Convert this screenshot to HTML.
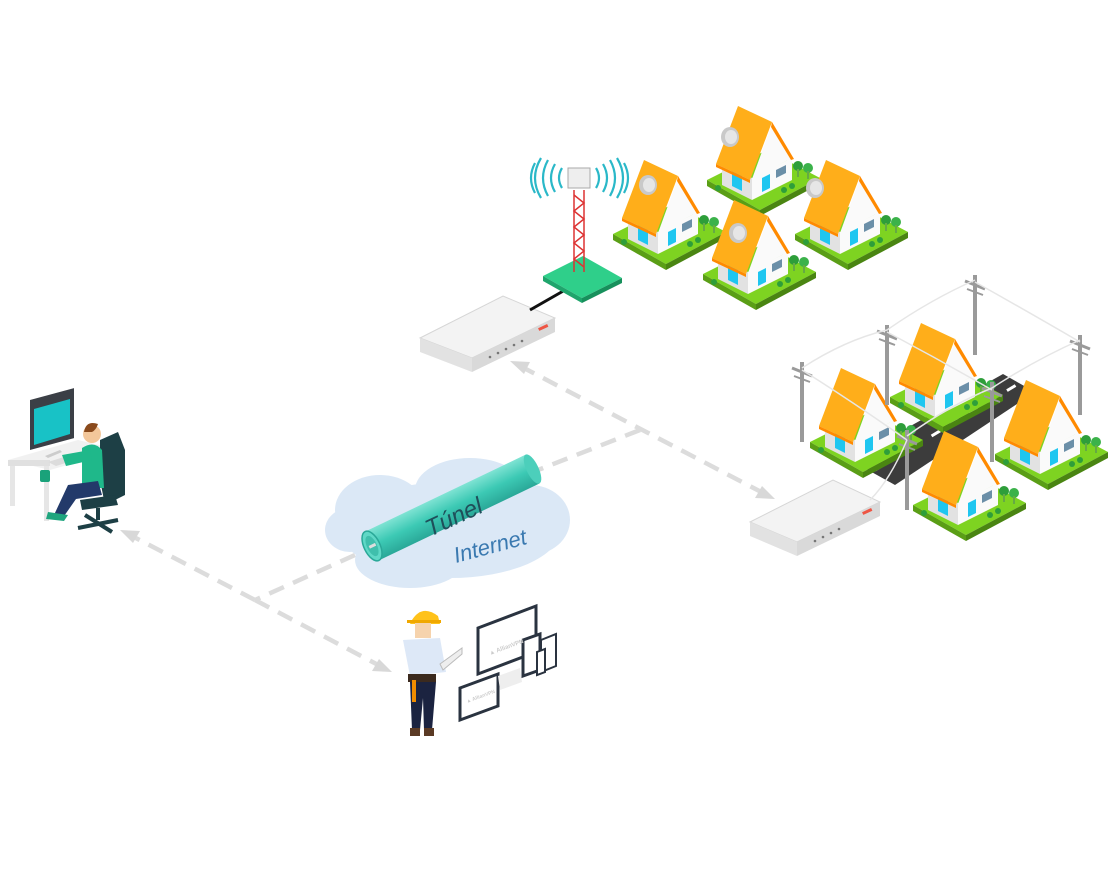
<!DOCTYPE html>
<html><head><meta charset="utf-8"><style>
html,body{margin:0;padding:0;background:#fff;}
svg{display:block;}
text{font-family:"Liberation Sans",sans-serif;}
</style></head><body>
<svg width="1120" height="870" viewBox="0 0 1120 870" xmlns="http://www.w3.org/2000/svg">
<defs>
<g id="house">
  <polygon points="-55,12 5,-18 58,10 -2,42" fill="#7ed321"/>
  <polygon points="-55,12 -2,42 -2,48 -55,18" fill="#5a9e16"/>
  <polygon points="-2,42 58,10 58,16 -2,48" fill="#4a8512"/>
  <polygon points="-40,-5 -10,10 -10,32 -40,17" fill="#e2e2e2"/>
  <polygon points="-10,10 30,-10 30,12 -10,32" fill="#fafafa"/>
  <polygon points="-30,2 -20,7 -20,23 -30,18" fill="#1fc6f0"/>
  <polygon points="0,10 8,6 8,20 0,24" fill="#1fc6f0"/>
  <polygon points="14,2 24,-3 24,5 14,10" fill="#6b8fa8"/>
  <polygon points="-10,11 10,-44 30,-10" fill="#fafafa"/>
  <polygon points="-12,12 10,-46 -24,-62 -46,-4" fill="#ffae1a"/>
  <polygon points="10,-46 32,-9 29,-8 9,-41" fill="#ff8a00"/>
  <polygon points="-12,12 -46,-4 -46,-1 -12,15" fill="#ff8a00"/>
  <circle cx="36" cy="-2" r="5" fill="#2e9e3a"/><circle cx="46" cy="0" r="5" fill="#3bb24a"/>
  <rect x="35" y="1" width="2" height="8" fill="#6a4"/><rect x="45" y="3" width="2" height="8" fill="#6a4"/>
  <circle cx="22" cy="22" r="3" fill="#2e9e3a"/><circle cx="30" cy="18" r="3" fill="#2e9e3a"/>
  <circle cx="-44" cy="20" r="3" fill="#2e9e3a"/>
</g>
<g id="dish">
  <ellipse cx="0" cy="0" rx="9" ry="10" fill="#c9c9c9"/>
  <ellipse cx="1" cy="0" rx="6" ry="7" fill="#e6e6e6"/>
</g>
<g id="pole">
  <rect x="-2" y="0" width="4" height="80" fill="#9a9a9a"/>
  <line x1="-10" y1="6" x2="10" y2="14" stroke="#9a9a9a" stroke-width="3"/>
  <line x1="-8" y1="14" x2="8" y2="20" stroke="#9a9a9a" stroke-width="2"/>
</g>
</defs>

<!-- dashed connectors -->
<g stroke="#dcdcdc" stroke-width="4.5" stroke-dasharray="16 10" fill="none">
  <line x1="520" y1="366" x2="765" y2="494"/>
  <line x1="640" y1="430" x2="538" y2="470"/>
  <line x1="355" y1="555" x2="255" y2="600"/>
  <line x1="255" y1="600" x2="130" y2="535"/>
  <line x1="255" y1="600" x2="382" y2="667"/>
</g>
<g fill="#d8d8d8">
  <polygon points="510,361 530,362 524,374"/>
  <polygon points="775,499 755,498 762,486"/>
  <polygon points="120,530 140,531 133,543"/>
  <polygon points="392,672 372,671 379,659"/>
</g>

<!-- cloud -->
<g fill="#dbe8f6">
  <ellipse cx="450" cy="530" rx="110" ry="48"/>
  <ellipse cx="380" cy="510" rx="45" ry="35"/>
  <ellipse cx="470" cy="490" rx="55" ry="32"/>
  <ellipse cx="530" cy="520" rx="40" ry="35"/>
  <ellipse cx="410" cy="560" rx="55" ry="28"/>
  <ellipse cx="350" cy="530" rx="25" ry="22"/>
</g>
<!-- tunnel -->
<g transform="translate(372,546) rotate(-25.6)">
  <defs><linearGradient id="tg" x1="0" y1="0" x2="0" y2="1">
    <stop offset="0" stop-color="#7fe3d3"/><stop offset="0.5" stop-color="#3cc9b4"/><stop offset="1" stop-color="#2aa898"/></linearGradient></defs>
  <rect x="0" y="-16" width="178" height="32" fill="url(#tg)"/>
  <ellipse cx="178" cy="0" rx="6" ry="16" fill="#4ccfbb"/>
  <ellipse cx="0" cy="0" rx="8" ry="16" fill="#5fd8c6" stroke="#2aa898" stroke-width="1.5"/>
  <ellipse cx="0" cy="0" rx="5" ry="11" fill="#3fbfac"/>
  <line x1="-3" y1="0" x2="4" y2="0" stroke="#ddd" stroke-width="3"/>
</g>
<text x="0" y="0" transform="translate(430,537) rotate(-25)" font-size="24" font-style="italic" fill="#1f4f5a">Túnel</text>
<text x="0" y="0" transform="translate(456,563) rotate(-15)" font-size="22" font-style="italic" fill="#3a79b0">Internet</text>

<!-- switch 1 -->
<polygon points="420,338 503,296 555,318 472,358" fill="#f3f3f3" stroke="#d6d6d6"/>
<polygon points="420,338 472,358 472,372 420,352" fill="#e2e2e2"/>
<polygon points="472,358 555,318 555,332 472,372" fill="#d9d9d9"/>
<g fill="#777"><circle cx="490" cy="357" r="1.3"/><circle cx="498" cy="353" r="1.3"/><circle cx="506" cy="349" r="1.3"/><circle cx="514" cy="345" r="1.3"/><circle cx="522" cy="341" r="1.3"/></g>
<rect x="538" y="326" width="10" height="3" fill="#e54" transform="rotate(-25 543 327)"/>
<line x1="530" y1="310" x2="565" y2="290" stroke="#111" stroke-width="3"/>

<!-- switch 2 -->
<polygon points="750,522 833,480 880,502 797,542" fill="#f3f3f3" stroke="#d6d6d6"/>
<polygon points="750,522 797,542 797,556 750,536" fill="#e2e2e2"/>
<polygon points="797,542 880,502 880,516 797,556" fill="#d9d9d9"/>
<g fill="#777"><circle cx="815" cy="541" r="1.3"/><circle cx="823" cy="537" r="1.3"/><circle cx="831" cy="533" r="1.3"/><circle cx="839" cy="529" r="1.3"/></g>
<rect x="862" y="510" width="10" height="3" fill="#e54" transform="rotate(-25 867 511)"/>

<!-- tower -->
<polygon points="543,276 583,256 622,278 582,298" fill="#2fcf8a"/>
<polygon points="543,276 582,298 582,303 543,281" fill="#1fa56c"/>
<polygon points="582,298 622,278 622,283 582,303" fill="#17905c"/>
<g stroke="#d33" stroke-width="1.5" fill="none">
  <line x1="574" y1="190" x2="574" y2="272"/><line x1="584" y1="190" x2="584" y2="272"/>
  <polyline points="574,195 584,203 574,211 584,219 574,227 584,235 574,243 584,251 574,259 584,267"/>
</g>
<rect x="568" y="168" width="22" height="20" fill="#eee" stroke="#aaa"/>
<g stroke="#2ab8c8" stroke-width="2.2" fill="none">
  <path d="M562,168 q-6,10 0,20"/><path d="M555,164 q-8,14 0,28"/><path d="M548,160 q-10,18 0,36"/><path d="M541,158 q-12,20 0,40"/><path d="M535,163 q-8,15 0,30"/>
  <path d="M596,168 q6,10 0,20"/><path d="M603,164 q8,14 0,28"/><path d="M610,160 q10,18 0,36"/><path d="M617,158 q12,20 0,40"/><path d="M624,163 q8,15 0,30"/>
</g>

<!-- top houses -->
<use href="#house" x="762" y="168"/><use href="#dish" x="730" y="137"/>
<use href="#house" x="668" y="222"/><use href="#dish" x="648" y="185"/>
<use href="#house" x="850" y="222"/><use href="#dish" x="815" y="188"/>
<use href="#house" x="758" y="262"/><use href="#dish" x="738" y="233"/>

<!-- road neighborhood -->
<polygon points="850,460 1003,374 1035,392 895,485" fill="#3c3c3c"/>
<g stroke="#fff" stroke-width="3" stroke-dasharray="10 12"><line x1="875" y1="470" x2="1018" y2="384"/></g>
<use href="#house" x="945" y="385"/>
<use href="#house" x="865" y="430"/>
<use href="#house" x="1050" y="442"/>
<use href="#house" x="968" y="493"/>
<use href="#pole" x="975" y="275"/>
<use href="#pole" x="887" y="325"/>
<use href="#pole" x="802" y="362"/>
<use href="#pole" x="1080" y="335"/>
<use href="#pole" x="992" y="382"/>
<use href="#pole" x="907" y="430"/>
<g stroke="#e6e6e6" stroke-width="1.5" fill="none">
  <path d="M802,368 Q845,340 887,330 Q930,300 975,280"/>
  <path d="M907,436 Q950,405 992,388 Q1035,360 1080,340"/>
  <path d="M802,370 Q850,400 907,440"/><path d="M887,332 Q940,360 992,390"/><path d="M975,282 Q1025,310 1080,342"/>
  <path d="M907,440 Q890,480 870,500"/>
</g>

<!-- desk worker -->
<polygon points="8,460 78,440 120,450 50,470" fill="#f1f1f1"/>
<rect x="8" y="460" width="42" height="6" fill="#e0e0e0"/>
<rect x="10" y="466" width="5" height="40" fill="#e6e6e6"/>
<rect x="44" y="466" width="5" height="55" fill="#e6e6e6"/>
<rect x="30" y="400" width="44" height="50" fill="#3b3f46" transform="skewY(-15) translate(0,8)"/>
<polygon points="34,409 70,399 70,434 34,445" fill="#18c2c6"/>
<polygon points="45,456 60,450 62,452 48,458" fill="#ccc"/>
<polygon points="48,462 80,452 88,456 56,466" fill="#dcdcdc"/>
<rect x="40" y="470" width="10" height="12" rx="2" fill="#1aa27a"/>
<polygon points="100,440 118,432 125,450 125,495 105,505 100,480" fill="#1d3f45"/>
<circle cx="92" cy="434" r="9" fill="#f3c79a"/>
<path d="M84,432 q2,-12 14,-8 q-2,6 -6,8z" fill="#8a4a1c"/>
<path d="M82,448 q12,-8 20,2 l2,38 l-22,0 z" fill="#1fb88a"/>
<polygon points="62,455 90,450 92,460 66,466" fill="#1fb88a"/>
<path d="M68,485 l30,-4 l4,14 l-26,4 l-14,20 l-8,-4z" fill="#233a6a"/>
<polygon points="48,512 68,515 64,521 46,519" fill="#1fa57e"/>
<polygon points="80,500 115,495 118,505 82,510" fill="#1d3f45"/>
<g stroke="#1d3f45" stroke-width="4"><line x1="98" y1="508" x2="98" y2="520"/><line x1="78" y1="528" x2="118" y2="520"/><line x1="85" y1="515" x2="112" y2="532"/></g>

<!-- field worker -->
<path d="M412,620 q10,-16 26,-4 l2,8 l-30,0z" fill="#ffc21a"/>
<rect x="407" y="620" width="34" height="3" fill="#f0a800"/>
<rect x="415" y="623" width="16" height="15" fill="#f6d3ad"/>
<polygon points="403,640 440,638 446,672 410,676" fill="#dde8f7"/>
<rect x="408" y="674" width="28" height="8" fill="#3b2a1e"/>
<polygon points="410,682 436,682 432,730 424,730 423,698 420,730 412,730" fill="#1b2340"/>
<rect x="410" y="728" width="10" height="8" fill="#5a3a24"/><rect x="424" y="728" width="10" height="8" fill="#5a3a24"/>
<polygon points="440,664 462,648 462,654 443,670" fill="#eee" stroke="#bbb"/>
<rect x="412" y="680" width="4" height="22" fill="#f08c00"/>
<!-- devices -->
<polygon points="478,628 536,606 536,652 478,674" fill="#fff" stroke="#2a3340" stroke-width="3"/>
<polygon points="460,688 498,674 498,706 460,720" fill="#fff" stroke="#2a3340" stroke-width="3"/>
<polygon points="523,640 540,634 540,670 523,676" fill="#fff" stroke="#2a3340" stroke-width="3"/>
<polygon points="541,640 556,634 556,666 541,672" fill="#fff" stroke="#2a3340" stroke-width="2"/>
<polygon points="537,652 545,649 545,672 537,675" fill="#fff" stroke="#2a3340" stroke-width="2"/>
<polygon points="498,676 520,668 522,682 500,690" fill="#eee"/>
<text x="0" y="0" transform="translate(490,655) rotate(-20)" font-size="6" font-weight="bold" fill="#ccc">▲ AllianVPN</text>
<text x="0" y="0" transform="translate(467,703) rotate(-20)" font-size="5" font-weight="bold" fill="#ccc">▲ AllianVPN</text>
</svg>
</body></html>
